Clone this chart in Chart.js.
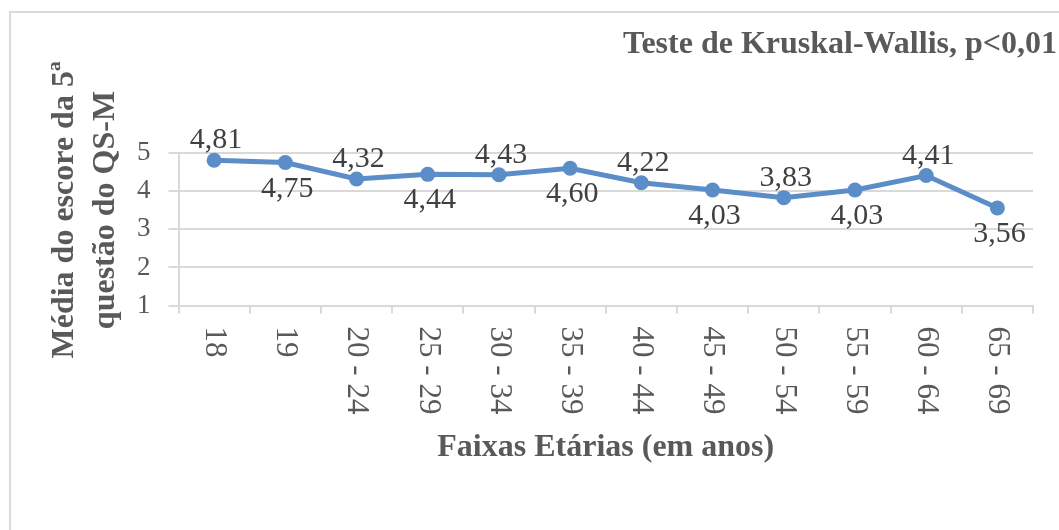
<!DOCTYPE html>
<html>
<head>
<meta charset="utf-8">
<script src="https://cdn.jsdelivr.net/npm/chart.js@4"></script>
<style>
  body { margin: 0; background: #fff; }
  canvas { display: block; }
</style>
</head>
<body>
<canvas id="faixasChart" width="1059" height="530"></canvas>
<script>
/* DADOS */
const faixas = ["18", "19", "20 - 24", "25 - 29", "30 - 34", "35 - 39", "40 - 44", "45 - 49", "50 - 54", "55 - 59", "60 - 64", "65 - 69"];
const medias = [4.81, 4.75, 4.32, 4.44, 4.43, 4.60, 4.22, 4.03, 3.83, 4.03, 4.41, 3.56];
const yTicks = [1, 2, 3, 4, 5];

const tituloGrafico = "Teste de Kruskal-Wallis, p<0,01";
const tituloY = ["Média do escore da 5ª", "questão do QS-M"];
const tituloX = "Faixas Etárias (em anos)";

const serif = "'Liberation Serif', 'Times New Roman', serif";
const cinza = "#595959";
const azul = "#5b8dc8";

/* moldura, titulos e rotulos */
const extras = {
    id: "extras",
    beforeDraw(chart) {
        const c = chart.ctx;
        c.save();
        c.strokeStyle = "#dadada";
        c.lineWidth = 2;
        c.strokeRect(10, 12, chart.width + 20, chart.height + 20);
        c.restore();
    },
    afterDraw(chart) {
        const c = chart.ctx;
        const x = chart.scales.x;
        const area = chart.chartArea;
        const meta = chart.getDatasetMeta(0);

        c.save();
        c.fillStyle = cinza;
        c.font = "bold 32px " + serif;
        c.textAlign = "right";
        c.fillText(tituloGrafico, 1057, 53);

        // titulo do eixo y, duas linhas
        c.translate(0, 210);
        c.rotate(-Math.PI / 2);
        c.textAlign = "center";
        c.font = "bold 32px " + serif;
        c.fillText(tituloY[0], 0, 73);
        c.fillText(tituloY[1], 0, 114);
        c.restore();

        // rotulos do eixo x (lidos de cima para baixo)
        c.save();
        c.font = "31px " + serif;
        c.fillStyle = cinza;
        c.textAlign = "left";
        c.textBaseline = "middle";
        faixas.forEach((f, i) => {
            c.save();
            c.translate(x.getPixelForValue(i), area.bottom + 21);
            c.rotate(Math.PI / 2);
            c.fillText(f, 0, 0);
            c.restore();
        });
        c.restore();

        // valores
        c.save();
        c.font = "30px " + serif;
        c.fillStyle = "#404040";
        c.textAlign = "center";
        meta.data.forEach((p, i) => {
            const txt = medias[i].toFixed(2).replace(".", ",");
            c.fillText(txt, p.x + 2, i % 2 === 0 ? p.y - 12 : p.y + 34);
        });
        c.restore();
    }
};

new Chart(document.getElementById("faixasChart"), {
    type: "line",
    data: {
        labels: faixas,
        datasets: [{
            data: medias,
            borderColor: azul,
            backgroundColor: azul,
            borderWidth: 5,
            pointRadius: 7.5,
            pointBackgroundColor: azul,
            pointBorderWidth: 0,
            tension: 0,
            clip: false
        }]
    },
    options: {
        responsive: false,
        animation: false,
        layout: { padding: { top: 153, right: 26, bottom: 63, left: 119 } },
        plugins: {
            legend: { display: false },
            tooltip: { enabled: false }
        },
        scales: {
            x: {
                offset: true,
                grid: { offset: true, drawOnChartArea: false, color: "#d9d9d9", lineWidth: 2, tickLength: 8 },
                border: { color: "#d9d9d9", width: 2 },
                ticks: { display: false },
                title: {
                    display: true,
                    text: tituloX,
                    color: cinza,
                    font: { family: serif, size: 32, weight: "bold" },
                    padding: { top: 115, bottom: 0 }
                }
            },
            y: {
                min: 1,
                max: 5,
                afterBuildTicks: (s) => { s.ticks = yTicks.map(v => ({ value: v })); },
                ticks: { color: cinza, font: { family: serif, size: 27 }, padding: 18 },
                grid: { color: "#d9d9d9", lineWidth: 2, tickLength: 10 },
                border: { color: "#d9d9d9", width: 2 }
            }
        }
    },
    plugins: [extras]
});
</script>
</body>
</html>
